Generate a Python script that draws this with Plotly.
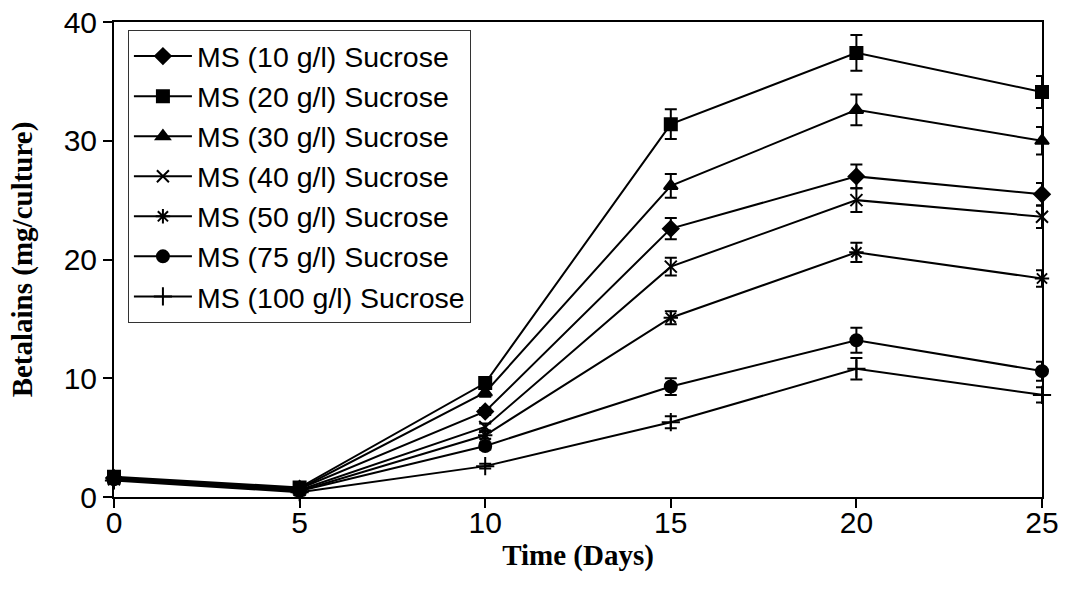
import plotly.graph_objects as go

days = [0, 5, 10, 15, 20, 25]

series_names = [
    "MS (10 g/l) Sucrose",
    "MS (20 g/l) Sucrose",
    "MS (30 g/l) Sucrose",
    "MS (40 g/l) Sucrose",
    "MS (50 g/l) Sucrose",
    "MS (75 g/l) Sucrose",
    "MS (100 g/l) Sucrose",
]

ms10 = [1.6, 0.7, 7.2, 22.6, 27.0, 25.5]
ms20 = [1.7, 0.8, 9.6, 31.4, 37.4, 34.1]
ms30 = [1.6, 0.7, 8.8, 26.2, 32.6, 30.0]
ms40 = [1.5, 0.6, 5.9, 19.4, 25.0, 23.6]
ms50 = [1.5, 0.5, 5.2, 15.1, 20.6, 18.4]
ms75 = [1.5, 0.5, 4.3, 9.3, 13.2, 10.6]
ms100 = [1.4, 0.4, 2.6, 6.3, 10.8, 8.6]

err10 = [0.1, 0.1, 0.3, 0.9, 1.0, 0.95]
err20 = [0.1, 0.1, 0.4, 1.25, 1.5, 1.35]
err30 = [0.1, 0.1, 0.35, 1.0, 1.3, 1.15]
err40 = [0.1, 0.1, 0.3, 0.75, 1.0, 0.95]
err50 = [0.1, 0.1, 0.3, 0.55, 0.8, 0.7]
err75 = [0.1, 0.1, 0.3, 0.7, 1.05, 0.8]
err100 = [0.1, 0.1, 0.2, 0.5, 0.9, 0.65]

values = [ms10, ms20, ms30, ms40, ms50, ms75, ms100]
errors = [err10, err20, err30, err40, err50, err75, err100]
symbols = ["diamond", "square", "triangle-up", "x-thin-open", "asterisk-open",
           "circle", "cross-thin-open"]
sizes = [12, 12, 12, 12, 12, 12, 13]

fig = go.Figure()
for i, (name, y, e, sym, sz) in enumerate(zip(series_names, values, errors, symbols, sizes)):
    fig.add_trace(go.Scatter(
        x=days, y=y, name=name, mode="lines+markers",
        legendgroup="g%d" % i,
        line=dict(color="black", width=2),
        marker=dict(symbol=sym, size=sz, color="black",
                    line=dict(color="black", width=2)),
        error_y=dict(type="data", array=e, visible=True, color="black",
                     thickness=2, width=6),
        cliponaxis=False,
    ))

fig.update_layout(
    width=1065, height=590,
    margin=dict(l=114, r=23, t=22, b=93),
    paper_bgcolor="white", plot_bgcolor="white",
    font=dict(family="Liberation Sans, Arial, sans-serif", size=30, color="black"),
    showlegend=True,
    legend=dict(
        x=0.015, y=0.983, xanchor="left", yanchor="top",
        bgcolor="white", bordercolor="#333333", borderwidth=1,
        font=dict(family="Liberation Sans, Arial, sans-serif", size=28.5, color="black"),
        tracegroupgap=0, itemwidth=58,
    ),
)

fig.update_xaxes(
    range=[0, 25], tickmode="linear", tick0=0, dtick=5,
    showline=True, linecolor="black", linewidth=2, mirror=True,
    ticks="outside", ticklen=9, tickwidth=1.5, tickcolor="black",
    showgrid=False, zeroline=False, automargin=False,
    tickfont=dict(size=30), ticklabelstandoff=-11,
    title=dict(text="<b>Time (Days)</b>",
               font=dict(family="Liberation Serif, Times New Roman, serif", size=29),
               standoff=7),
)
fig.update_yaxes(
    range=[0, 40], tickmode="linear", tick0=0, dtick=10,
    showline=True, linecolor="black", linewidth=2, mirror=True,
    ticks="outside", ticklen=9, tickwidth=1.5, tickcolor="black",
    showgrid=False, zeroline=False, automargin=False,
    tickfont=dict(size=30),
    title=dict(text="<b>Betalains (mg/culture)</b>",
               font=dict(family="Liberation Serif, Times New Roman, serif", size=29),
               standoff=22),
)

fig.write_html("out.html")
